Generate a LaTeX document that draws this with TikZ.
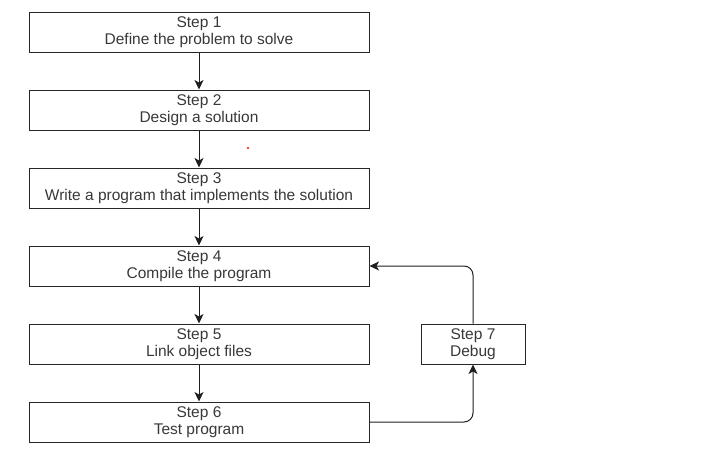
\documentclass[tikz,border=0pt]{standalone}
\usepackage{fontspec}
\setmainfont{Liberation Sans}
\usetikzlibrary{arrows.meta}
\begin{document}
\begin{tikzpicture}[x=1pt,y=-1pt,
  stepbox/.style={draw=black!85, line width=1pt, minimum width=340pt, minimum height=40pt, inner sep=0pt, align=center, font=\fontsize{15.5}{17.5}\selectfont, text=black!78, execute at begin node={\rule{0pt}{14.5pt}}},
  smallbox/.style={stepbox, minimum width=104pt},
  conn/.style={draw=black!88, line width=1pt, -{Stealth[length=9.5pt,width=9pt,inset=2.5pt]}, rounded corners=9pt}]
\useasboundingbox (0,0) rectangle (721,448);
\node[stepbox] (s1) at (199,32) {Step 1\\Define the problem to solve};
\node[stepbox] (s2) at (199,110) {Step 2\\Design a solution};
\node[stepbox] (s3) at (199,188) {Step 3\\Write a program that implements the solution};
\node[stepbox] (s4) at (199,266) {Step 4\\Compile the program};
\node[stepbox] (s5) at (199,344) {Step 5\\Link object files};
\node[stepbox] (s6) at (199,422) {Step 6\\Test program};
\node[smallbox] (s7) at (473,344) {Step 7\\Debug};
\draw[conn] (s1) -- (s2);
\draw[conn] (s2) -- (s3);
\draw[conn] (s3) -- (s4);
\draw[conn] (s4) -- (s5);
\draw[conn] (s5) -- (s6);
\draw[conn] (s6.east) -| (s7.south);
\draw[conn] (s7.north) |- (s4.east);
\fill[red] (248,148) circle (1.2pt);
\end{tikzpicture}
\end{document}
